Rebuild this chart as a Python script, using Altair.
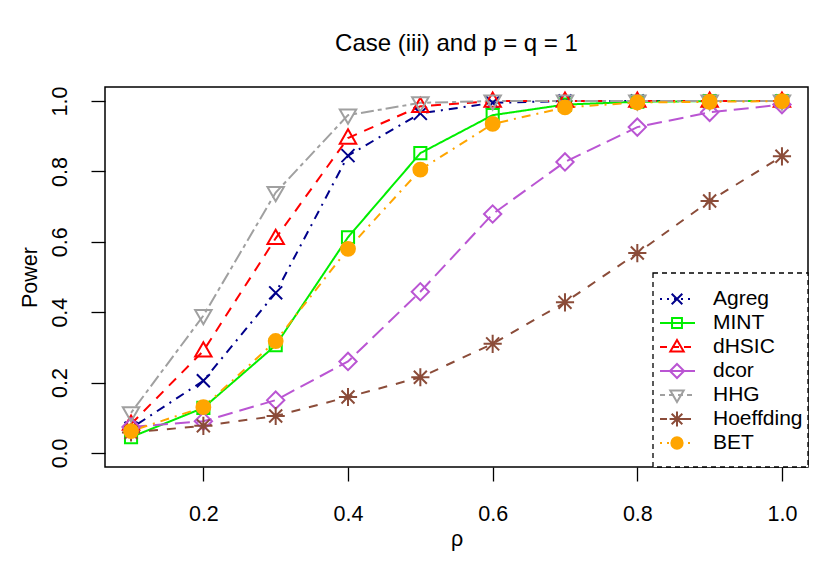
import altair as alt
import pandas as pd

# Power curves for each independence test, case (iii), p = q = 1
rho = [0.1, 0.2, 0.3, 0.4, 0.5, 0.6, 0.7, 0.8, 0.9, 1.0]
methods = ["Agreg", "MINT", "dHSIC", "dcor", "HHG", "Hoeffding", "BET"]

agreg = [0.07, 0.205, 0.455, 0.845, 0.965, 0.995, 1.0, 1.0, 1.0, 1.0]
mint = [0.045, 0.128, 0.306, 0.613, 0.852, 0.96, 0.99, 0.998, 1.0, 1.0]
dhsic = [0.082, 0.29, 0.61, 0.895, 0.985, 1.0, 1.0, 1.0, 1.0, 1.0]
dcor = [0.074, 0.09, 0.15, 0.26, 0.458, 0.679, 0.827, 0.926, 0.968, 0.99]
hhg = [0.114, 0.39, 0.74, 0.96, 0.995, 1.0, 1.0, 1.0, 1.0, 1.0]
hoeffding = [0.058, 0.077, 0.105, 0.159, 0.215, 0.31, 0.428, 0.568, 0.716, 0.843]
bet = [0.062, 0.13, 0.318, 0.58, 0.805, 0.935, 0.982, 0.996, 0.998, 1.0]

series = [agreg, mint, dhsic, dcor, hhg, hoeffding, bet]

colors = ["#00008B", "#00EE00", "#FF0000", "#BA55D3", "#A0A0A0", "#8B4C39", "#FFA500"]
fills = ["transparent"] * 6 + ["#FFA500"]
dashes = [[2, 6, 9, 6], [1, 0], [10, 8], [15, 7], [4, 4, 13, 4], [9, 9], [2, 6, 9, 6]]
legend_dashes = [[2, 5], [1, 0], [7, 5], [1, 0], [5, 4], [7, 5], [2, 5]]
shapes = [
    "M-0.75,-0.75L0.75,0.75M-0.75,0.75L0.75,-0.75",
    "M-0.7,-0.7L0.7,-0.7L0.7,0.7L-0.7,0.7Z",
    "M0,-1L0.95,0.65L-0.95,0.65Z",
    "M0,-1L1,0L0,1L-1,0Z",
    "M0,1L0.95,-0.65L-0.95,-0.65Z",
    "M-0.75,-0.75L0.75,0.75M-0.75,0.75L0.75,-0.75M0,-1.05L0,1.05M-1.05,0L1.05,0",
    "M-0.8,0A0.8,0.8 0 1,0 0.8,0A0.8,0.8 0 1,0 -0.8,0Z",
]

rows = []
for m, vals in zip(methods, series):
    for r, v in zip(rho, vals):
        rows.append({"rho": r, "power": v, "method": m})
df = pd.DataFrame(rows)
key_df = pd.DataFrame({"method": methods})

FONT = "Liberation Sans"

x_enc = alt.X("rho:Q", title="ρ",
              scale=alt.Scale(domain=[0.064, 1.036], nice=False, zero=False),
              axis=alt.Axis(values=[0.2, 0.4, 0.6, 0.8, 1.0], format=".1f"))
y_enc = alt.Y("power:Q", title="Power",
              scale=alt.Scale(domain=[-0.04, 1.04], nice=False, zero=False),
              axis=alt.Axis(values=[0.0, 0.2, 0.4, 0.6, 0.8, 1.0], format=".1f",
                            labelAngle=270, labelAlign="center", labelBaseline="bottom"))

stroke_enc = alt.Stroke("method:N", sort=methods,
                        scale=alt.Scale(domain=methods, range=colors), legend=None)
fill_enc = alt.Fill("method:N", sort=methods,
                    scale=alt.Scale(domain=methods, range=fills), legend=None)
shape_enc = alt.Shape("method:N", sort=methods,
                      scale=alt.Scale(domain=methods, range=shapes), legend=None)

lines = alt.Chart(df).mark_line(strokeWidth=2).encode(
    x=x_enc,
    y=y_enc,
    stroke=stroke_enc,
    strokeDash=alt.StrokeDash("method:N", sort=methods,
                              scale=alt.Scale(domain=methods, range=dashes), legend=None),
)

points = alt.Chart(df).mark_point(size=300, strokeWidth=2, opacity=1).encode(
    x=x_enc, y=y_enc, stroke=stroke_enc, fill=fill_enc, shape=shape_enc,
)

# Key in the lower-right corner: dashed frame, line sample, symbol and name per test
key_y = alt.Y("method:N", sort=methods, axis=None,
              scale=alt.Scale(type="point", domain=methods, range=[212, 356], padding=0))

key_box = alt.Chart(key_df).mark_rect(
    fill="white", stroke="black", strokeWidth=1.3, strokeDash=[5, 4]
).encode(
    x=alt.value(548), x2=alt.value(703), y=alt.value(186), y2=alt.value(380)
).transform_filter(alt.datum.method == "Agreg")

key_lines = alt.Chart(key_df).mark_rule(strokeWidth=2).encode(
    x=alt.value(555), x2=alt.value(590), y=key_y,
    stroke=stroke_enc,
    strokeDash=alt.StrokeDash("method:N", sort=methods,
                              scale=alt.Scale(domain=methods, range=legend_dashes),
                              legend=None),
)

key_points = alt.Chart(key_df).mark_point(size=200, strokeWidth=2, opacity=1).encode(
    x=alt.value(572), y=key_y, stroke=stroke_enc, fill=fill_enc, shape=shape_enc,
)

key_text = alt.Chart(key_df).mark_text(
    align="left", baseline="middle", font=FONT, fontSize=21, color="black"
).encode(x=alt.value(608), y=key_y, text="method:N")

key = alt.layer(key_box, key_lines, key_points, key_text)

chart = alt.layer(
    alt.layer(lines, points), key
).resolve_scale(
    y="independent", strokeDash="independent"
).properties(
    width=703,
    height=380,
    autosize=alt.AutoSizeParams(type="none"),
    padding={"left": 105, "top": 87, "right": 28, "bottom": 106},
    title=alt.Title("Case (iii) and p = q = 1", font=FONT,
                    fontSize=24, fontWeight="normal", anchor="middle", offset=30),
).configure_view(
    stroke="black", strokeWidth=1.5
).configure_axis(
    grid=False, domain=False, tickColor="black", tickSize=14, tickWidth=1.3,
    labelFont=FONT, labelFontSize=21.5, labelColor="black",
    titleFont=FONT, titleFontSize=21.5, titleFontWeight="normal",
    titleColor="black", labelOverlap=False, labelFlush=False,
).configure_axisX(
    labelPadding=22, titlePadding=4
).configure_axisY(
    labelPadding=20, titlePadding=8
)

chart.save("out.html", embed_options={"renderer": "svg", "actions": False})
